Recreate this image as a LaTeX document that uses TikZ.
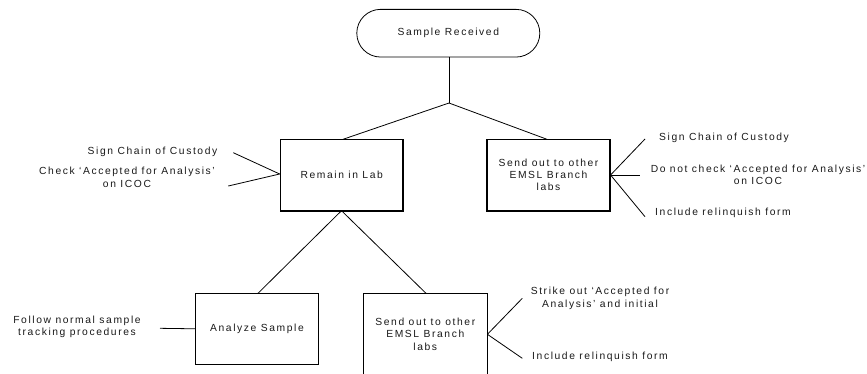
\documentclass[tikz,border=0pt]{standalone}
\usepackage{fontspec}
\setmainfont[LetterSpace=15.5]{Liberation Sans}
\begin{document}
\begin{tikzpicture}[x=1pt,y=-1pt,
  txt/.style={font=\fontsize{10.3}{12.2}\selectfont, text=black!90, align=center, inner sep=0pt},
  boxthick/.style={draw, line width=1.6pt, minimum width=122.5pt, minimum height=71.4pt, txt},
  boxthin/.style={draw, line width=0.8pt, minimum width=122.5pt, minimum height=71pt, txt},
  term/.style={draw, line width=0.8pt, rounded corners=23.8pt, minimum width=183pt, minimum height=47.7pt, txt},
  conn/.style={line width=0.8pt}]
\useasboundingbox (0,0) rectangle (867,373);
% main nodes
\node[term] (start) at (448.3,33.2) {Sample Received};
\node[boxthick] (lab) at (341.7,175) {Remain in Lab};
\node[boxthick] (out) at (548.5,175) {Send out to other\\EMSL Branch\\labs};
\node[boxthin] (ana) at (257,328.8) {Analyze Sample};
\node[boxthin, minimum width=123.4pt, minimum height=82pt] (out2) at (425.3,334.3) {Send out to other\\EMSL Branch\\labs};
% tree connectors
\coordinate (j) at (449,103);
\draw[conn] (start.south -| j) -- (j);
\draw[conn] (j) -- (343,139.3);
\draw[conn] (j) -- (547,139.3);
\draw[conn] (341.5,210.7) -- (258,293.3);
\draw[conn] (341.5,210.7) -- (426,293.3);
% annotation texts
\node[txt] (t1) at (152.5,151.7) {Sign Chain of Custody};
\node[txt] (t2) at (127,177.3) {Check `Accepted for Analysis'\\on ICOC};
\node[txt] (t3) at (724,137.7) {Sign Chain of Custody};
\node[txt] (t4) at (758,175) {Do not check `Accepted for Analysis'\\on ICOC};
\node[txt] (t5) at (723,212.7) {Include relinquish form};
\node[txt] (t6) at (77,327.2) {Follow normal sample\\tracking procedures};
\node[txt] (t7) at (600,298.3) {Strike out `Accepted for\\Analysis' and initial};
\node[txt] (t8) at (600,357.3) {Include relinquish form};
% annotation line ends
\coordinate (a1) at (233.3,152.7);
\coordinate (a2) at (228.3,186);
\coordinate (b1) at (645,139);
\coordinate (b2) at (640,175);
\coordinate (b3) at (645,216.7);
\coordinate (c1) at (160,328.3);
\coordinate (d1) at (522.3,298.3);
\coordinate (d2) at (522.3,358.3);
\draw[conn] (lab.west) ++(0,-1) -- (a1);
\draw[conn] (lab.west) ++(0,-1) -- (a2);
\draw[conn] (out.east) -- (b1);
\draw[conn] (out.east) -- (b2);
\draw[conn] (out.east) -- (b3);
\draw[conn] (ana.west) -- (c1);
\draw[conn] (out2.east) -- (d1);
\draw[conn] (out2.east) -- (d2);
\end{tikzpicture}
\end{document}
